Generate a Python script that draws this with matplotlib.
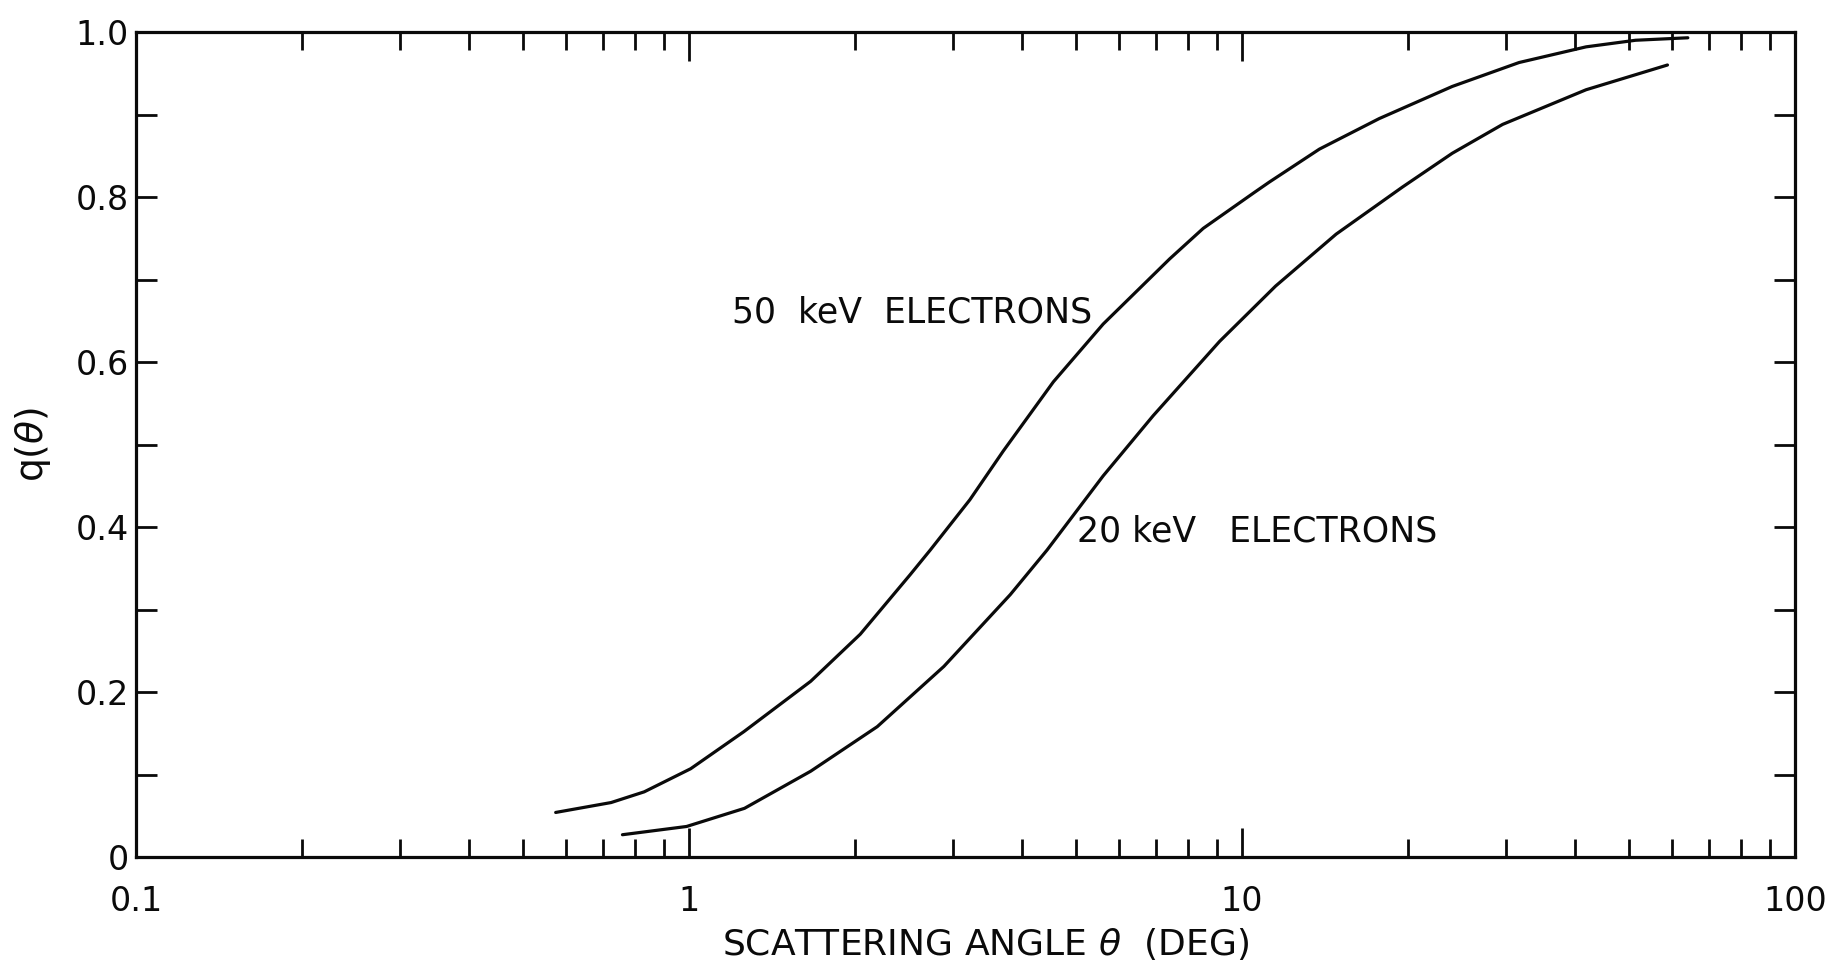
import matplotlib
matplotlib.use("Agg")
import matplotlib.pyplot as plt
from matplotlib.ticker import FixedLocator, NullFormatter

# Scattering angle (deg) and q(theta) for the two beam energies
theta_50kev = [0.574, 0.723, 0.83, 1.007, 1.257, 1.66, 2.04, 2.51, 2.73, 3.22,
               3.70, 4.56, 5.61, 7.40, 8.51, 10.5, 11.2, 13.8, 17.7, 24.0,
               31.7, 41.9, 51.5, 64.0]
q_50kev = [0.054, 0.066, 0.079, 0.107, 0.152, 0.213, 0.270, 0.342, 0.372, 0.433,
           0.492, 0.576, 0.646, 0.725, 0.762, 0.805, 0.818, 0.858, 0.895, 0.934,
           0.963, 0.982, 0.990, 0.993]

theta_20kev = [0.758, 0.99, 1.26, 1.66, 2.19, 2.89, 3.81, 4.44, 5.61, 6.91,
               9.11, 11.5, 14.8, 19.5, 24.0, 29.6, 41.9, 58.8]
q_20kev = [0.027, 0.037, 0.059, 0.104, 0.158, 0.231, 0.318, 0.372, 0.462, 0.535,
           0.625, 0.692, 0.755, 0.812, 0.853, 0.888, 0.930, 0.960]

x_ticks = [0.1, 1, 10, 100]
x_tick_labels = ["0.1", "1", "10", "100"]
y_ticks = [0, 0.2, 0.4, 0.6, 0.8, 1.0]
y_tick_labels = ["0", "0.2", "0.4", "0.6", "0.8", "1.0"]

W, H = 1837, 968
fig = plt.figure(figsize=(W / 100, H / 100), dpi=100)
left, right, top, bottom = 136, 1795, 32, 857
ax = fig.add_axes([left / W, 1 - bottom / H, (right - left) / W, (bottom - top) / H])

ink = "#0a0a0a"
ax.plot(theta_50kev, q_50kev, color=ink, lw=2.3, solid_capstyle="round",
        solid_joinstyle="round")
ax.plot(theta_20kev, q_20kev, color=ink, lw=2.3, solid_capstyle="round",
        solid_joinstyle="round")

ax.set_xscale("log")
ax.set_xlim(0.1, 100)
ax.set_ylim(0, 1.0)

for s in ax.spines.values():
    s.set_linewidth(2.3)
    s.set_color(ink)

ax.xaxis.set_major_locator(FixedLocator(x_ticks))
ax.set_xticklabels(x_tick_labels)
minor_x = [m * d for d in (0.1, 1, 10) for m in range(2, 10)]
ax.xaxis.set_minor_locator(FixedLocator(minor_x))
ax.xaxis.set_minor_formatter(NullFormatter())

ax.yaxis.set_major_locator(FixedLocator(y_ticks))
ax.set_yticklabels(y_tick_labels)
ax.yaxis.set_minor_locator(FixedLocator([0.1, 0.3, 0.5, 0.7, 0.9]))

ax.tick_params(axis="both", which="both", direction="in", top=True, right=True,
               colors=ink, width=2.0)
ax.tick_params(axis="x", which="major", length=21, pad=20, labelsize=24)
ax.tick_params(axis="x", which="minor", length=13)
ax.tick_params(axis="y", which="both", length=15, pad=5, labelsize=24)

ax.set_xlabel("SCATTERING ANGLE $\\theta$  (DEG)", fontsize=26, color=ink)
ax.xaxis.set_label_coords(0.512, -0.084)
ax.set_ylabel("q($\\theta$)", fontsize=27, labelpad=16, color=ink)

ax.text(5.36, 0.66, "50  keV  ELECTRONS", fontsize=25, ha="right", va="center", color=ink)
ax.text(5.03, 0.394, "20 keV   ELECTRONS", fontsize=25, ha="left", va="center", color=ink)

fig.savefig("out.png", dpi=100, facecolor="white")
